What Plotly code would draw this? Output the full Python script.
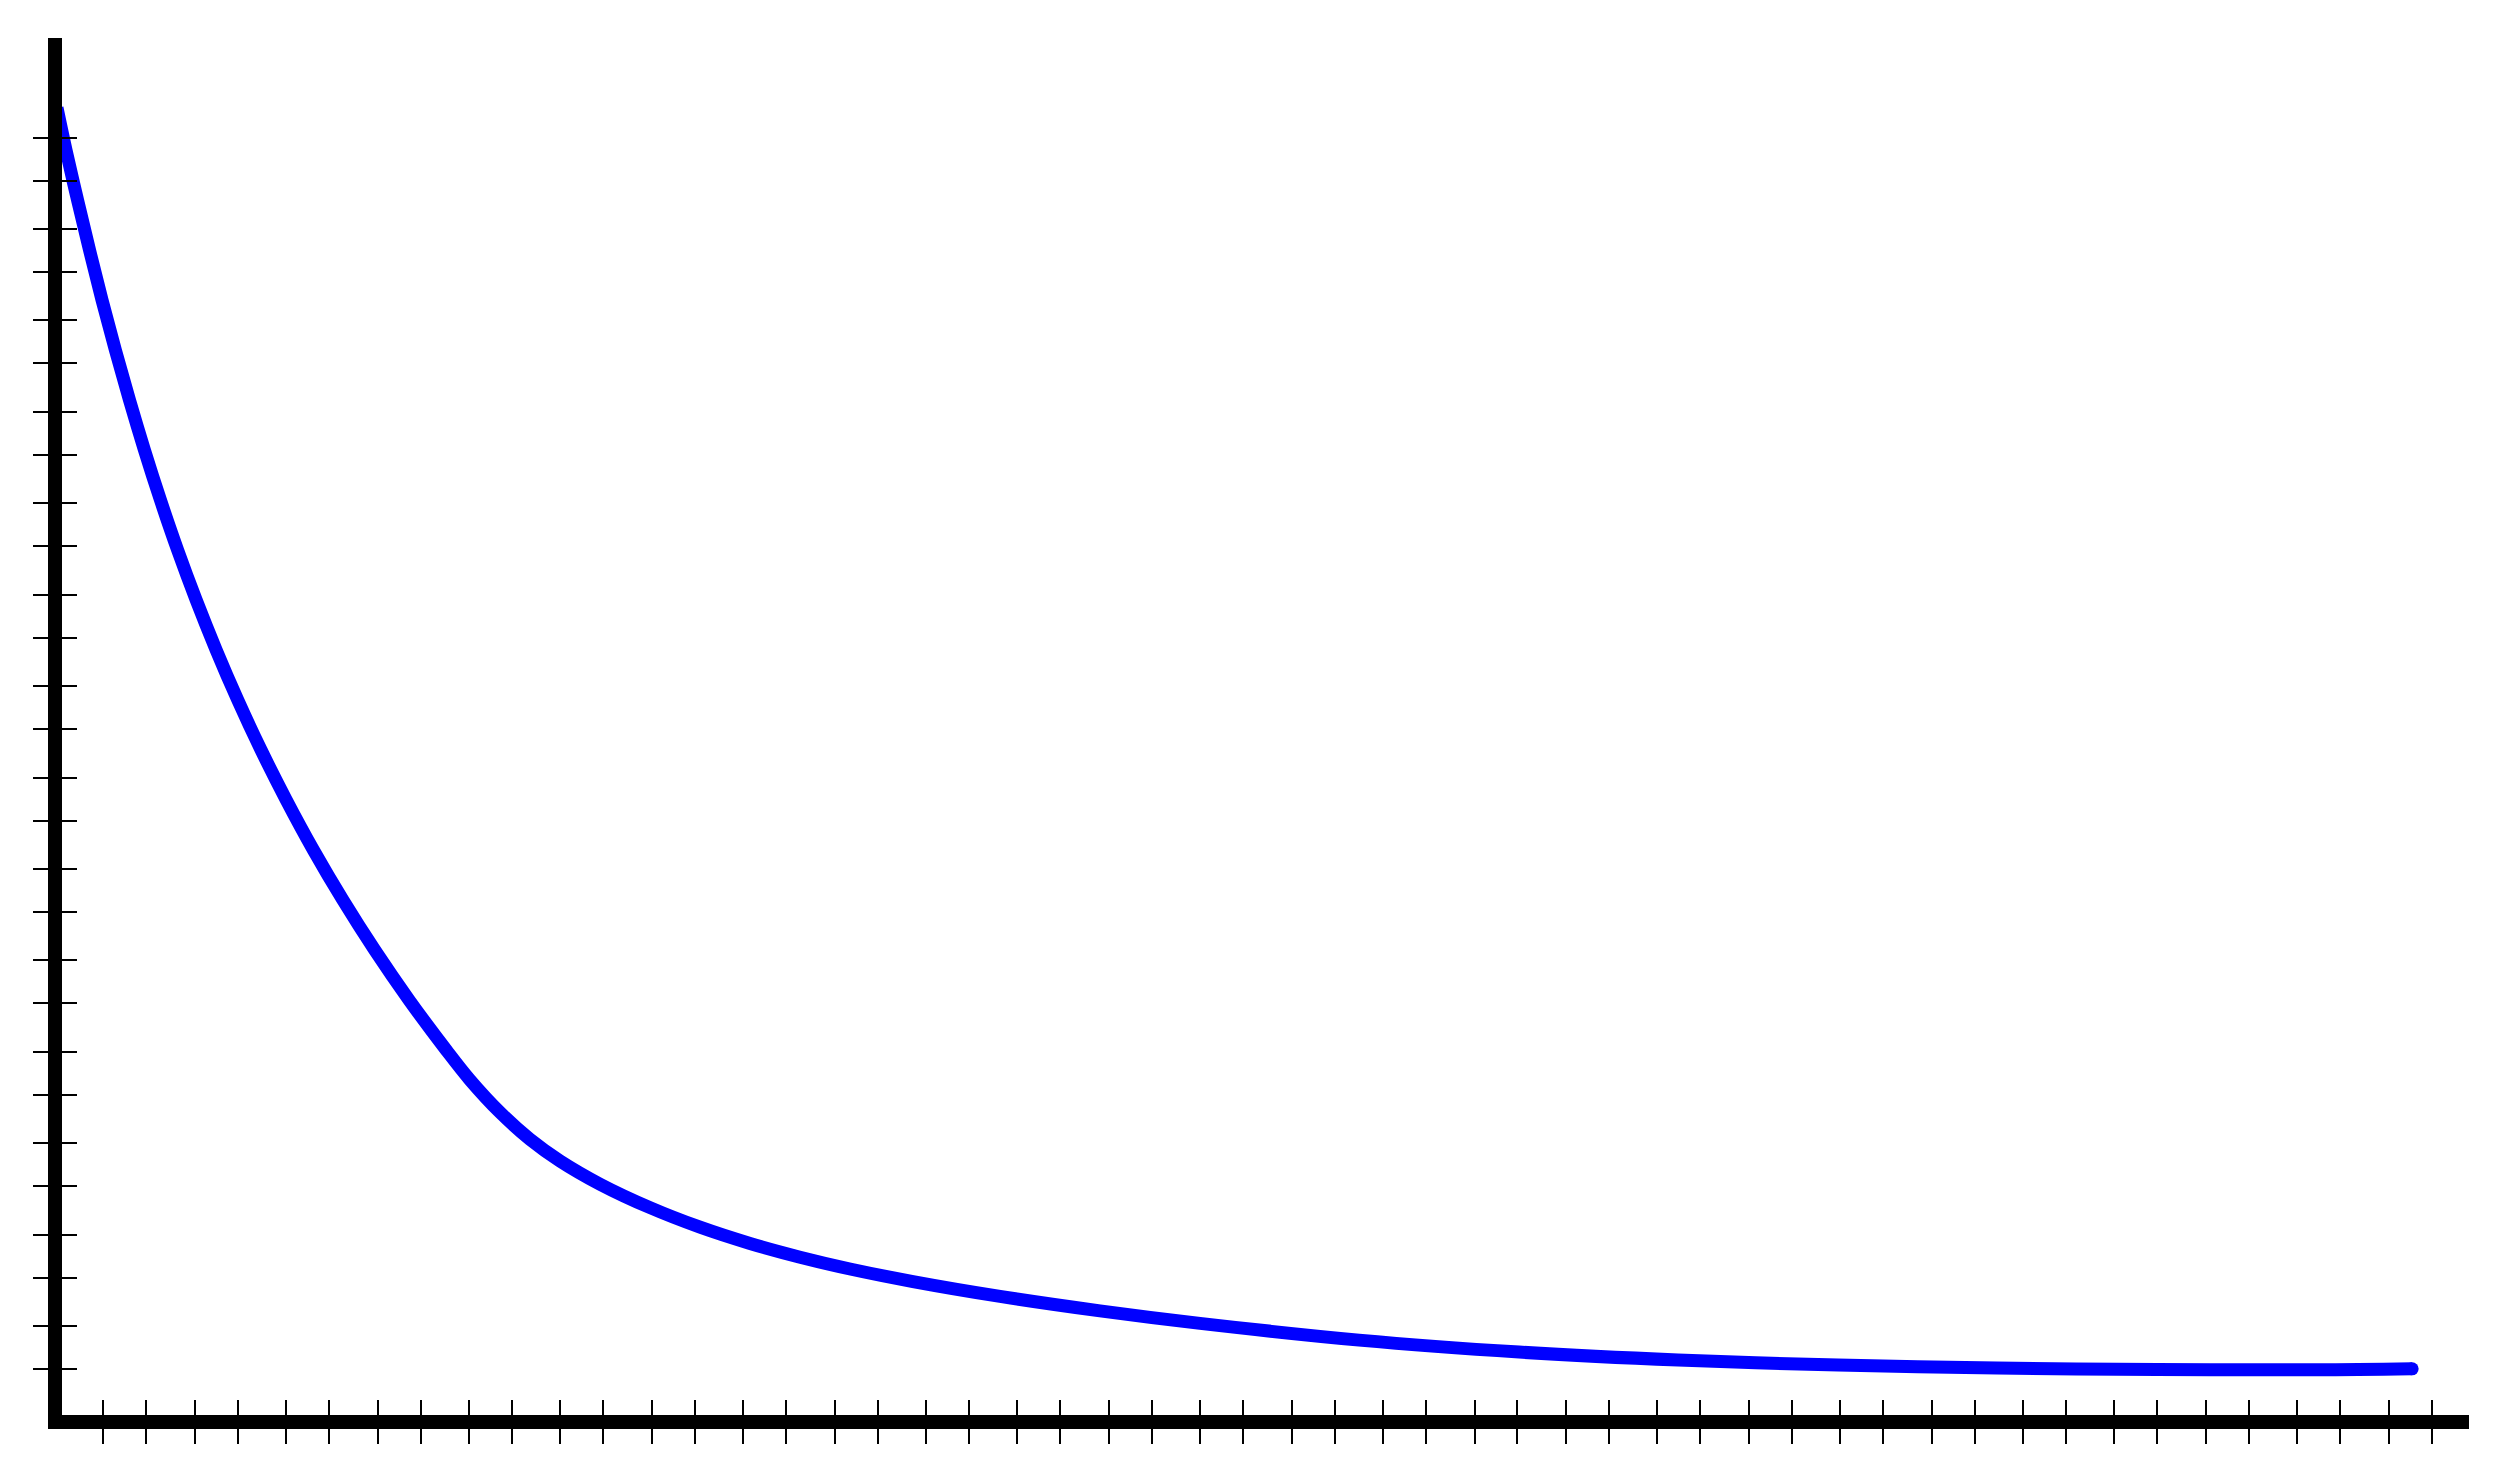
import numpy as np
import plotly.graph_objects as go

# Curve values (data units: 1 unit = one tick-pair period; origin at the axis lines)
curve_x = [0.022, 0.120, 0.246, 0.377, 0.514, 0.660, 0.814, 0.978, 1.153, 1.341,
           1.544, 1.763, 1.999, 2.254, 2.530, 2.827, 3.149, 3.497, 3.873, 4.280,
           4.540, 4.869, 5.197, 5.525, 5.963, 6.510, 7.057, 7.604, 8.151, 8.698,
           9.387, 10.339, 11.433, 12.527, 14.267, 16.018, 17.757, 19.508, 21.247,
           22.998, 24.737, 25.788]
curve_y = [14.376, 13.917, 13.370, 12.823, 12.276, 11.729, 11.182, 10.635, 10.088, 9.540,
           8.993, 8.446, 7.899, 7.352, 6.805, 6.258, 5.711, 5.164, 4.617, 4.070,
           3.742, 3.387, 3.092, 2.856, 2.602, 2.345, 2.131, 1.953, 1.803, 1.674,
           1.536, 1.374, 1.216, 1.079, 0.896, 0.765, 0.678, 0.623, 0.591,
           0.574, 0.571, 0.582]

# Axis extents and tick sets
X_RANGE = [0.0766, 26.41]
Y_RANGE = [0.0766, 15.14]
x_ticks_a = np.arange(0.53, 26, 1.0)
x_ticks_b = np.arange(1, 27, 1.0)
y_ticks_c = np.arange(0.58, 14, 1.0)
y_ticks_d = np.arange(1.05, 14.5, 1.0)

xt = sorted(np.concatenate([x_ticks_a, x_ticks_b]).tolist())
yt = sorted(np.concatenate([y_ticks_c, y_ticks_d]).tolist())

BLUE = "#0000ff"
fig = go.Figure()
fig.add_trace(go.Scatter(x=curve_x, y=curve_y, mode="lines", xaxis="x2", yaxis="y2",
                         line=dict(color=BLUE, width=13, shape="spline", smoothing=1.0),
                         showlegend=False, hoverinfo="skip", cliponaxis=False))
# round end caps
fig.add_trace(go.Scatter(x=[curve_x[0], curve_x[-1]], y=[curve_y[0], curve_y[-1]], mode="markers",
                         marker=dict(color=BLUE, size=13, line=dict(width=0)),
                         showlegend=False, hoverinfo="skip", cliponaxis=False))

common = dict(showgrid=False, zeroline=False, showticklabels=False,
              tickmode="array", ticklen=15, tickwidth=2, tickcolor="black")
fig.update_layout(
    width=2492, height=1468,
    margin=dict(l=54, r=31, t=30, b=61, pad=0),
    paper_bgcolor="white", plot_bgcolor="white",
    xaxis=dict(range=X_RANGE, tickvals=xt, ticks="outside", showline=True,
               linewidth=14, linecolor="black", **common),
    yaxis=dict(range=Y_RANGE, tickvals=yt, ticks="outside", showline=True,
               linewidth=14, linecolor="black", **common),
    xaxis2=dict(range=X_RANGE, tickvals=xt, ticks="inside", overlaying="x",
                anchor="y2", side="bottom", showline=False, **common),
    yaxis2=dict(range=Y_RANGE, tickvals=yt, ticks="inside", overlaying="y",
                anchor="x2", side="left", showline=False, **common),
)
fig.write_html("out.html")
